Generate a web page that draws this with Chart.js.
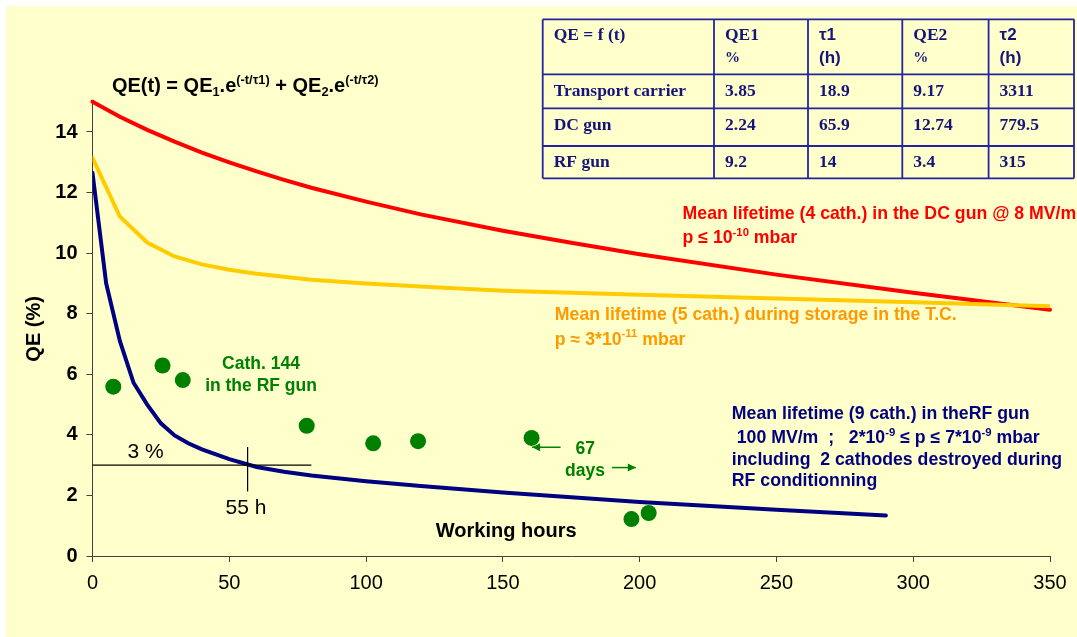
<!DOCTYPE html>
<html><head><meta charset="utf-8">
<script src="https://cdn.jsdelivr.net/npm/chart.js@4"></script>
<style>html,body{margin:0;padding:0;background:#fff;overflow:hidden}#wrap{width:1077px;height:637px;position:relative}canvas{display:block}</style>
</head><body><div id="wrap"><canvas id="c" width="1077" height="637"></canvas></div>
<script>
// ---- data ----
const xTickValues = [0,50,100,150,200,250,300,350];
const yTickValues = [0,2,4,6,8,10,12,14];
const dcHours = [0,10,20,30,40,50,60,70,80,100,120,150,175,200,250,300,350,353];
const dcQE    = [15.0,14.5,14.07,13.68,13.32,13.0,12.7,12.42,12.16,11.7,11.28,10.74,10.34,9.96,9.29,8.69,8.13,8.09];
const tcHours = [0,10,20,30,40,50,60,80,100,125,150,200,250,300,350];
const tcQE    = [13.15,11.21,10.35,9.89,9.63,9.45,9.32,9.12,9.0,8.87,8.76,8.63,8.5,8.38,8.25];
const rfHours = [0,5,10,15,20,25,30,35,40,50,60,70,80,100,120,150,200,250,290];
const rfQE    = [12.65,9.0,7.1,5.72,5.0,4.38,3.98,3.72,3.52,3.2,2.94,2.78,2.66,2.47,2.31,2.1,1.78,1.53,1.34];
const cathHours = [7.6,25.6,33.0,78.3,102.6,119,160.5,197,203.3];
const cathQE    = [5.59,6.29,5.81,4.30,3.72,3.79,3.90,1.22,1.42];
const pct3Hours = [0,80];
const pct3QE    = [3,3];
const h55Hours  = [56.7,56.7];
const h55QE     = [3.6,2.13];
// table
const tableHead  = [['QE = f (t)'],['QE1','%'],['τ1','(h)'],['QE2','%'],['τ2','(h)']];
const tableNames = ['Transport carrier','DC gun','RF gun'];
const tableQE1   = ['3.85','2.24','9.2'];
const tableTau1  = ['18.9','65.9','14'];
const tableQE2   = ['9.17','12.74','3.4'];
const tableTau2  = ['3311','779.5','315'];

const pts = (xs, ys) => xs.map((x,i)=>({x, y: ys[i]}));
const SANS = "'Liberation Sans', Arial, sans-serif";
const SERIF = "'Liberation Serif', 'Times New Roman', serif";

// text notes (positions in data units)
const notes = [
  {x:7.1, y:15.56, size:20, color:'#000', align:'left', segs:[['QE(t) = QE'],['1','sub'],['.e'],['(-t/τ1)','sup'],[' + QE'],['2','sub'],['.e'],['(-t/τ2)','sup']]},
  {x:215.7, y:11.35, size:17.7, color:'#FF0000', align:'left', segs:[['Mean lifetime (4 cath.) in the DC gun @ 8 MV/m']]},
  {x:215.7, y:10.54, size:17.7, color:'#FF0000', align:'left', segs:[['p ≤ 10'],['-10','sup'],[' mbar']]},
  {x:169, y:7.99, size:17.7, color:'#FF9900', align:'left', segs:[['Mean lifetime (5 cath.) during storage in the T.C.']]},
  {x:169, y:7.19, size:17.7, color:'#FF9900', align:'left', segs:[['p ≈ 3*10'],['-11','sup'],[' mbar']]},
  {x:61.6, y:6.37, size:17.5, color:'#008000', align:'center', segs:[['Cath. 144']]},
  {x:61.6, y:5.65, size:17.5, color:'#008000', align:'center', segs:[['in the RF gun']]},
  {x:180.1, y:3.57, size:17.5, color:'#008000', align:'center', segs:[['67']]},
  {x:180.0, y:2.84, size:17.5, color:'#008000', align:'center', segs:[['days']]},
  {x:233.7, y:4.73, size:17.7, color:'#000080', align:'left', segs:[['Mean lifetime (9 cath.) in theRF gun']]},
  {x:233.7, y:3.94, size:17.7, color:'#000080', align:'left', segs:[[' 100 MV/m  ;   2*10'],['-9','sup'],[' ≤ p ≤ 7*10'],['-9','sup'],[' mbar']]},
  {x:233.7, y:3.23, size:17.7, color:'#000080', align:'left', segs:[['including  2 cathodes destroyed during']]},
  {x:233.7, y:2.51, size:17.7, color:'#000080', align:'left', segs:[['RF conditionning']]},
  {x:19.4, y:3.47, size:21, color:'#000', align:'center', weight:'normal', segs:[['3 %']]},
  {x:56.1, y:1.62, size:21, color:'#000', align:'center', weight:'normal', segs:[['55 h']]},
  {x:125.5, y:0.88, size:20, color:'#000', align:'left', segs:[['Working hours']]}
];
const arrows = [
  {x1:171.1, x2:160.7, y:3.59, color:'#008000'},
  {x1:189.9, x2:198.6, y:2.92, color:'#008000'}
];

function drawRich(ctx, n, px, py){
  const w = n.weight || 'bold';
  const small = n.size*0.64;
  let total = 0;
  n.segs.forEach(s=>{ ctx.font = `${w} ${s[1]?small:n.size}px ${SANS}`; total += ctx.measureText(s[0]).width; });
  let x = n.align==='center' ? px - total/2 : px;
  const base = py + n.size*0.36;
  ctx.fillStyle = n.color; ctx.textAlign='left'; ctx.textBaseline='alphabetic';
  n.segs.forEach(s=>{
    const f = s[1]?small:n.size;
    ctx.font = `${w} ${f}px ${SANS}`;
    let dy = 0;
    if (s[1]==='sup') dy = -n.size*0.42;
    if (s[1]==='sub') dy = n.size*0.22;
    ctx.fillText(s[0], x, base+dy);
    x += ctx.measureText(s[0]).width;
  });
}

const decor = {
  id:'decor',
  beforeDraw(chart){
    const ctx = chart.ctx;
    ctx.save();
    ctx.fillStyle='#ffffff'; ctx.fillRect(0,0,chart.width,chart.height);
    ctx.fillStyle='#FFFFCC'; ctx.fillRect(6,6,chart.width-6,chart.height-6);
    ctx.restore();
  },
  afterDatasetsDraw(chart){
    const ctx = chart.ctx, xs = chart.scales.x, ys = chart.scales.y;
    ctx.save();
    notes.forEach(n=>drawRich(ctx, n, xs.getPixelForValue(n.x), ys.getPixelForValue(n.y)));
    arrows.forEach(a=>{
      const x1=xs.getPixelForValue(a.x1), x2=xs.getPixelForValue(a.x2), y=ys.getPixelForValue(a.y);
      ctx.strokeStyle=a.color; ctx.fillStyle=a.color; ctx.lineWidth=1.5;
      ctx.beginPath(); ctx.moveTo(x1,y); ctx.lineTo(x2,y); ctx.stroke();
      const d = x2>x1?1:-1;
      ctx.beginPath(); ctx.moveTo(x2,y); ctx.lineTo(x2-d*8,y-4); ctx.lineTo(x2-d*8,y+4); ctx.closePath(); ctx.fill();
    });
    // table
    const cols=[542.7,714,808,902.3,988.6,1074], rows=[19.3,74.3,108.3,146,178.3];
    ctx.fillStyle='#FFFFCC';
    ctx.fillRect(cols[0],rows[0],cols[5]-cols[0],rows[4]-rows[0]);
    ctx.strokeStyle='#2424A0'; ctx.lineWidth=1.8;
    cols.forEach(c=>{ctx.beginPath();ctx.moveTo(c,rows[0]);ctx.lineTo(c,rows[4]);ctx.stroke();});
    rows.forEach(r=>{ctx.beginPath();ctx.moveTo(cols[0],r);ctx.lineTo(cols[5],r);ctx.stroke();});
    ctx.fillStyle='#14147A'; ctx.textAlign='left'; ctx.textBaseline='middle';
    tableHead.forEach((h,i)=>{
      h.forEach((t,j)=>{
        const sans = (i===2||i===4);
        ctx.font = sans ? `bold 17px ${SANS}` : (t==='%' ? `bold 15px ${SERIF}` : `bold 17.5px ${SERIF}`);
        ctx.fillText(t, cols[i]+11, j===0?35:58.5);
      });
    });
    const body = [tableNames, tableQE1, tableTau1, tableQE2, tableTau2];
    ctx.font = `bold 17.5px ${SERIF}`;
    body.forEach((col,i)=>col.forEach((t,r)=>{
      ctx.fillText(t, cols[i]+11, [91,125.5,162.5][r]);
    }));
    ctx.restore();
  }
};

Chart.defaults.font.family = SANS;
new Chart(document.getElementById('c'), {
  type:'scatter',
  data:{datasets:[
    {data:pts(cathHours,cathQE), pointRadius:8, pointBackgroundColor:'#008000', pointBorderColor:'#008000', pointBorderWidth:0, showLine:false},
    {data:pts(pct3Hours,pct3QE), showLine:true, borderColor:'#000', borderWidth:1.2, pointRadius:0},
    {data:pts(h55Hours,h55QE), showLine:true, borderColor:'#000', borderWidth:1.2, pointRadius:0},
    {data:pts(rfHours,rfQE), showLine:true, borderColor:'#000080', borderWidth:4, pointRadius:0, tension:0, borderCapStyle:'round'},
    {data:pts(tcHours,tcQE), showLine:true, borderColor:'#FFCC00', borderWidth:4, pointRadius:0, tension:0, borderCapStyle:'round'},
    {data:pts(dcHours,dcQE), showLine:true, borderColor:'#FF0000', borderWidth:4, pointRadius:0, tension:0, borderCapStyle:'round', clip:false}
  ]},
  options:{
    responsive:false, animation:false, devicePixelRatio:1, events:[],
    layout:{padding:{left:0, top:101.7, right:27, bottom:0}},
    plugins:{legend:{display:false}, tooltip:{enabled:false}},
    scales:{
      x:{type:'linear', min:0, max:350,
        afterBuildTicks:(s)=>{ s.ticks = xTickValues.map(v=>({value:v})); },
        afterFit:(s)=>{ s.height = 81; },
        ticks:{font:{size:20}, color:'#000', padding:9, maxRotation:0},
        grid:{drawOnChartArea:false, drawTicks:true, tickLength:6, color:'#404040', lineWidth:1},
        border:{display:true, color:'#404040', width:1}
      },
      y:{type:'linear', min:0, max:15,
        afterBuildTicks:(s)=>{ s.ticks = yTickValues.map(v=>({value:v})); },
        afterFit:(s)=>{ s.width = 92.5; },
        ticks:{font:{size:20, weight:'bold'}, color:'#000', padding:9},
        grid:{drawOnChartArea:false, drawTicks:true, tickLength:6, color:'#404040', lineWidth:1},
        border:{display:true, color:'#404040', width:1},
        title:{display:true, text:'QE (%)', font:{size:20, weight:'bold'}, color:'#000', padding:{top:22, bottom:0}}
      }
    }
  },
  plugins:[decor]
});
</script></body></html>
